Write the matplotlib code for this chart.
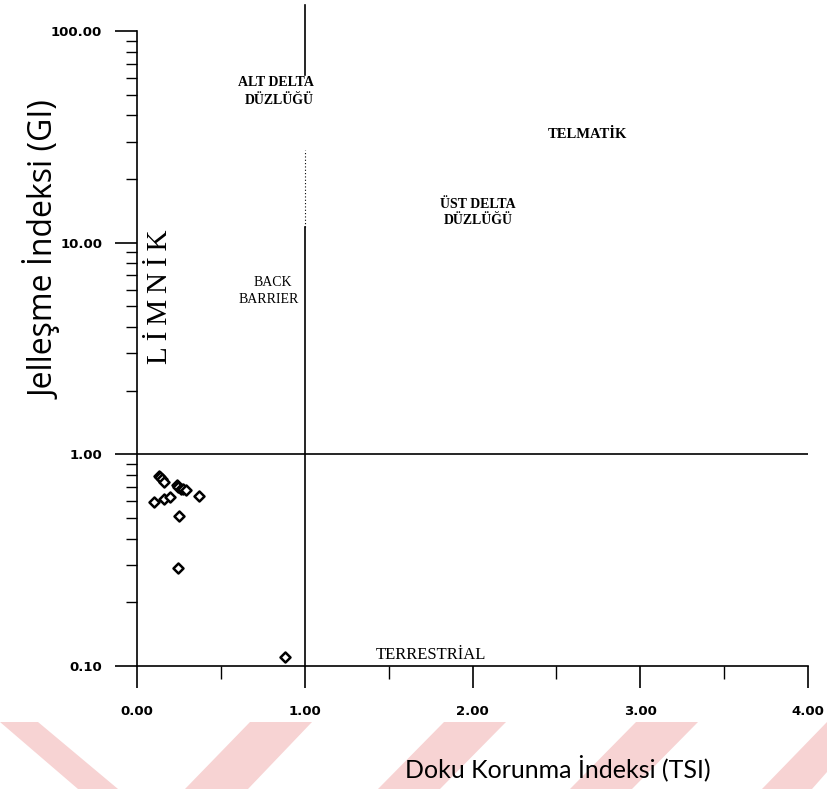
import matplotlib
matplotlib.use("Agg")
import matplotlib.pyplot as plt
from matplotlib.patches import Polygon
from matplotlib.ticker import FixedLocator, LogLocator, NullFormatter
import numpy as np

# Sample indices: texture preservation (TSI) vs gelification (GI)
tsi = [0.132, 0.140, 0.150, 0.160, 0.236, 0.246, 0.260, 0.276, 0.290,
       0.370, 0.102, 0.162, 0.196, 0.252, 0.246, 0.884]
gi = [0.790, 0.779, 0.762, 0.738, 0.716, 0.698, 0.688, 0.684, 0.676,
      0.636, 0.595, 0.613, 0.631, 0.513, 0.290, 0.110]

x_ticks = [0.0, 1.0, 2.0, 3.0, 4.0]
x_ticklabels = ["0.00", "1.00", "2.00", "3.00", "4.00"]
x_minor = [0.5, 1.5, 2.5, 3.5]
y_ticks = [0.1, 1.0, 10.0, 100.0]
y_ticklabels = ["0.10", "1.00", "10.00", "100.00"]

W, H = 827, 789
fig = plt.figure(figsize=(W / 100, H / 100), dpi=100)
fig.patch.set_facecolor("white")

# faint red diagonal bands along the bottom edge
bg = fig.add_axes([0, 0, 1, 1], zorder=-5)
bg.set_xlim(0, W)
bg.set_ylim(H, 0)
bg.axis("off")
red = "#f7d3d3"
ytop = 722
shapes = [
    [(0, ytop), (38, ytop), (118, 789), (78, 789)],
    [(185, 789), (250, ytop), (312, ytop), (248, 789)],
    [(378, 789), (444, ytop), (506, ytop), (440, 789)],
    [(570, 789), (636, ytop), (698, ytop), (632, 789)],
    [(762, 789), (827, 722), (827, 772), (812, 789)],
]
for s in shapes:
    bg.add_patch(Polygon(s, closed=True, facecolor=red, edgecolor="none"))

left, right = 137 / W, 808 / W
top, bottom = 31 / H, 666 / H
ax = fig.add_axes([left, 1 - bottom, right - left, bottom - top])
ax.set_facecolor("none")
ax.set_yscale("log")
ax.set_xlim(0, 4)
ax.set_ylim(0.1, 100)

for s in ["top", "right"]:
    ax.spines[s].set_visible(False)
for s in ["left", "bottom"]:
    ax.spines[s].set_linewidth(1.2)
    ax.spines[s].set_color("black")

tick_font = dict(family="DejaVu Sans", weight="bold", size=9.5)
ax.xaxis.set_major_locator(FixedLocator(x_ticks))
ax.xaxis.set_minor_locator(FixedLocator(x_minor))
ax.set_xticklabels(x_ticklabels, fontdict=tick_font)
ax.yaxis.set_major_locator(FixedLocator(y_ticks))
ax.yaxis.set_minor_locator(LogLocator(base=10, subs=np.arange(2, 10)))
ax.yaxis.set_minor_formatter(NullFormatter())
ax.set_yticklabels(y_ticklabels, fontdict=tick_font)
ax.tick_params(axis="x", which="major", direction="out", length=16, width=1.2, pad=12)
ax.tick_params(axis="x", which="minor", direction="out", length=9, width=1.0)
ax.tick_params(axis="y", which="major", direction="out", length=16, width=1.2, pad=9)
ax.tick_params(axis="y", which="minor", direction="out", length=8, width=1.0)

# field boundaries
ax.axhline(1.0, color="black", lw=1.2, zorder=2)
ax.plot([1, 1], [0.1, 11.9], color="black", lw=1.2, clip_on=False, zorder=2)
ax.plot([1, 1], [11.9, 27.4], color="black", lw=0.8, ls=(0, (1, 2)), clip_on=False, zorder=2)
ax.plot([1, 1], [62, 132], color="black", lw=1.2, clip_on=False, zorder=2)

ax.scatter(tsi, gi, marker="D", s=26, facecolors="white", edgecolors="black",
           linewidths=1.8, zorder=5, clip_on=False)

field_font = dict(family="Liberation Serif", weight="bold")
ax.text(0.829, 56.8, "ALT DELTA", ha="center", va="center", size=10, **field_font)
ax.text(0.846, 47.2, "DÜZLÜĞÜ", ha="center", va="center", size=10, **field_font)
ax.text(2.683, 32.3, "TELMATİK", ha="center", va="center", size=10.5, **field_font)
ax.text(2.033, 15.2, "ÜST DELTA", ha="center", va="center", size=10, **field_font)
ax.text(2.033, 12.66, "DÜZLÜĞÜ", ha="center", va="center", size=10, **field_font)
ax.text(0.811, 6.45, "BACK", ha="center", va="center",
        family="Liberation Serif", size=10)
ax.text(0.787, 5.36, "BARRIER", ha="center", va="center",
        family="Liberation Serif", size=10)
ax.text(1.75, 0.113, "TERRESTRİAL", ha="center", va="center",
        family="Liberation Serif", size=12)
ax.text(0.179, 5.57, "L\u2009İ\u2009M\u2009N\u2009İ\u2009K", ha="center", va="baseline",
        rotation=90, rotation_mode="anchor", family="Liberation Serif", size=21)

fig.text(55 / W, 1 - 250 / H, "Jelleşme İndeksi (GI)", rotation=90,
         rotation_mode="anchor", ha="center", va="baseline",
         family="Open Sans", size=23)
fig.text(558 / W, 1 - 768 / H, "Doku Korunma İndeksi (TSI)",
         ha="center", va="center", family="Lato", size=18)

fig.savefig("out.png", dpi=100, facecolor="white")
